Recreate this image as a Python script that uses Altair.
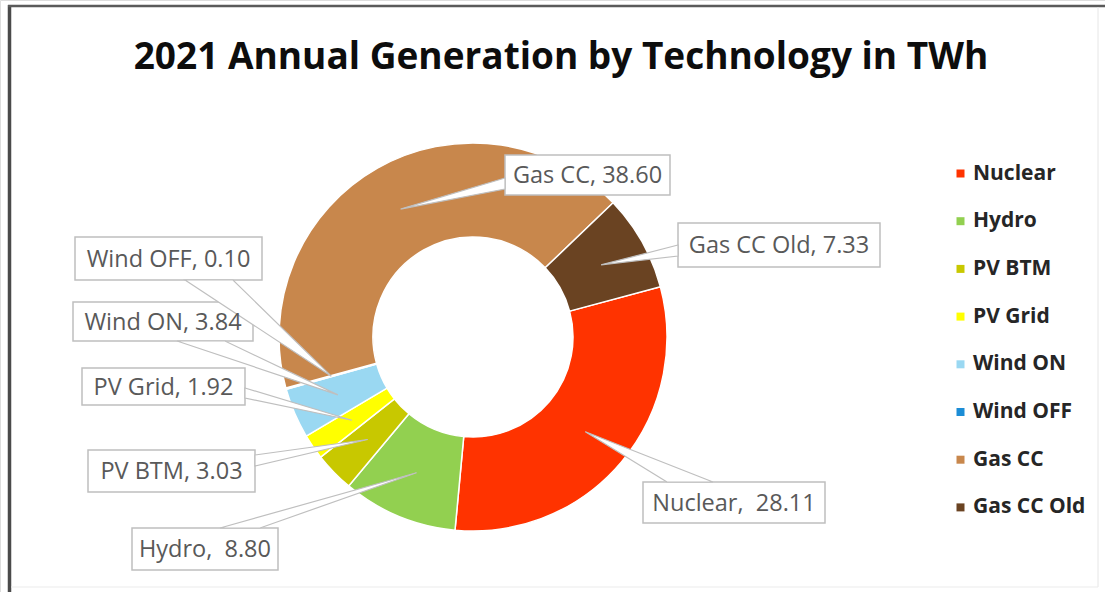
import math
import altair as alt
import pandas as pd

# ---------------- data ----------------
CATEGORIES = ["Nuclear", "Hydro", "PV BTM", "PV Grid", "Wind ON", "Wind OFF", "Gas CC", "Gas CC Old"]
VALUES = [28.11, 8.80, 3.03, 1.92, 3.84, 0.10, 38.60, 7.33]
LABELS = ["Nuclear, \u00a028.11", "Hydro, \u00a08.80", "PV BTM, 3.03", "PV Grid, 1.92",
          "Wind ON, 3.84", "Wind OFF, 0.10", "Gas CC, 38.60", "Gas CC Old, 7.33"]
COLORS = ["#FF3300", "#92D050", "#C8C800", "#FFFF00", "#9AD8F2", "#1C8DD6", "#C8874C", "#6A4322"]
TITLE = "2021 Annual Generation by Technology in TWh"

# ---------------- layout ----------------
W, H = 1105, 592
CX, CY = 473, 337
R_OUT, R_IN = 194, 100
START_DEG = 75.0

# label boxes: (x0, x1, y0, y1), callout base edge and its two points along the edge
BOXES = {
    "Nuclear":    ((643, 825, 482, 523), "top", 667, 713),
    "Hydro":      ((132, 278, 528, 570), "top", 220, 260),
    "PV BTM":     ((88, 255, 450, 492), "right", 455, 466),
    "PV Grid":    ((82, 245, 368, 405), "right", 388, 398),
    "Wind ON":    ((73, 253, 302, 341), "bottom", 177, 225),
    "Wind OFF":   ((75, 262, 237, 280), "bottom", 185, 233),
    "Gas CC":     ((505, 670, 155, 195), "left", 178, 189),
    "Gas CC Old": ((678, 880, 223, 267), "left", 245, 256),
}

total = sum(VALUES)
arc_df = pd.DataFrame({"category": CATEGORIES, "value": VALUES, "idx": list(range(len(VALUES)))})

# callout geometry: tip at slice mid-angle, mid-radius
box_rows, features, text_rows = [], [], []
cum = 0.0
r_mid = (R_OUT + R_IN) / 2
for cat, val, lab in zip(CATEGORIES, VALUES, LABELS):
    mid = math.radians(START_DEG + 360.0 * (cum + val / 2) / total)
    cum += val
    tx, ty = CX + r_mid * math.sin(mid), CY - r_mid * math.cos(mid)
    (x0, x1, y0, y1), edge, a, b = BOXES[cat]
    if edge == "top":
        p1, p2 = (a, y0), (b, y0)
    elif edge == "bottom":
        p1, p2 = (a, y1), (b, y1)
    elif edge == "left":
        p1, p2 = (x0, a), (x0, b)
    else:
        p1, p2 = (x1, a), (x1, b)
    features.append({"type": "Feature", "properties": {"name": cat},
                     "geometry": {"type": "Polygon",
                                  "coordinates": [[list(p1), [tx, ty], list(p2), list(p1)]]}})
    box_rows.append({"x0": x0, "x1": x1, "y0": y0, "y1": y1})
    text_rows.append({"x": (x0 + x1) / 2, "y": (y0 + y1) / 2 + 1, "t": lab})

box_df = pd.DataFrame(box_rows)
text_df = pd.DataFrame(text_rows)

X = lambda f: alt.X(f, type="quantitative", scale=None, axis=None)
Y = lambda f: alt.Y(f, type="quantitative", scale=None, axis=None)

frame_df = pd.DataFrame([
    {"x": 9.5, "y": 5, "x2": 9.5, "y2": 592, "c": "#4A4A4A", "w": 3.5},
    {"x": 8, "y": 6, "x2": 1105, "y2": 6, "c": "#5A5A5A", "w": 2.5},
    {"x": 1098, "y": 7, "x2": 1098, "y2": 587, "c": "#E6E6E6", "w": 1},
    {"x": 11, "y": 587, "x2": 1098, "y2": 587, "c": "#EBEBEB", "w": 1},
])
frame = alt.Chart(frame_df).mark_rule().encode(
    x=X("x"), y=Y("y"), x2="x2:Q", y2="y2:Q",
    color=alt.Color("c:N", scale=None), strokeWidth=alt.StrokeWidth("w:Q", scale=None))

title = alt.Chart(pd.DataFrame({"x": [561], "y": [58], "t": [TITLE]})).mark_text(
    font="Open Sans", fontWeight="bold", fontSize=37, color="#0D0D0D", align="center", baseline="middle"
).encode(x=X("x"), y=Y("y"), text="t:N")

arcs = alt.Chart(arc_df).mark_arc(outerRadius=R_OUT, innerRadius=R_IN, stroke="white", strokeWidth=1.5).encode(
    theta=alt.Theta("value:Q", stack=True,
                    scale=alt.Scale(range=[math.radians(START_DEG), math.radians(START_DEG) + 2 * math.pi])),
    order=alt.Order("idx:Q"),
    color=alt.Color("category:N", scale=alt.Scale(domain=CATEGORIES, range=COLORS),
                    legend=alt.Legend(title=None, orient="none", legendX=950, legendY=163,
                                      symbolType="square", symbolSize=64, symbolStrokeWidth=0,
                                      labelFont="Open Sans", labelFontSize=21, labelFontWeight="bold",
                                      labelColor="#262626", rowPadding=25.7, labelOffset=2)),
    x=alt.value(CX), y=alt.value(CY),
)

boxes = alt.Chart(box_df).mark_rect(fill="white", stroke="#BFBFBF", strokeWidth=1.5).encode(
    x=X("x0"), x2="x1:Q", y=Y("y0"), y2="y1:Q")

wedges = alt.Chart(alt.Data(values=features)).mark_geoshape(
    fill="white", stroke="#BFBFBF", strokeWidth=1.2
).project(type="identity", scale=1, translate=[0, 0])

texts = alt.Chart(text_df).mark_text(
    font="Open Sans", fontSize=23.5, color="#595959", align="center", baseline="middle"
).encode(x=X("x"), y=Y("y"), text="t:N")

chart = alt.layer(frame, title, arcs, boxes, wedges, texts).properties(
    width=W, height=H, autosize="none", padding=0
).configure_view(stroke=None).configure(background="white")

chart.save("out.html", embed_options={"renderer": "svg", "actions": False})
